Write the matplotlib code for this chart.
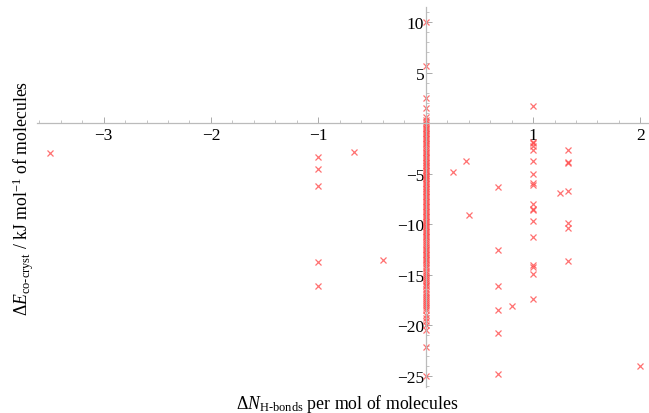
import numpy as np
import matplotlib
matplotlib.use('Agg')
import matplotlib.pyplot as plt
from matplotlib.ticker import MultipleLocator, FuncFormatter

plt.rcParams['font.family'] = ['Liberation Serif', 'DejaVu Serif']
plt.rcParams['mathtext.fontset'] = 'custom'
plt.rcParams['mathtext.rm'] = 'Liberation Serif'
plt.rcParams['mathtext.it'] = 'Liberation Serif:italic'

# points with a change in H-bond count
dN_other = [-3.5, -1, -1, -1, -1, -1, -0.67, -0.4,
            0.25, 0.38, 0.4,
            0.67, 0.67, 0.67, 0.67, 0.67, 0.67, 0.8,
            1, 1, 1, 1, 1, 1, 1, 1, 1, 1, 1, 1, 1, 1, 1, 1, 1, 1,
            1.25, 1.33, 1.33, 1.33, 1.33, 1.33, 1.33, 1.33, 2.0]
dE_other = [-2.9, -3.3, -4.5, -6.2, -13.7, -16.1, -2.8, -13.5,
            -4.8, -3.7, -9.1,
            -6.3, -12.5, -16.1, -18.5, -20.8, -24.8, -18.1,
            1.7, -1.9, -2.3, -2.6, -3.7, -5.0, -5.9, -6.1, -8.0, -8.5, -8.6,
            -9.7, -11.3, -14.0, -14.2, -14.9, -17.4, -2.0,
            -6.9, -2.6, -3.8, -3.9, -6.7, -9.9, -10.4, -13.6, -24.0]

# points with no change in H-bond count
dE_zero = [10.0, 5.7, 2.5, 1.5, 0.6, 0.3, 0.1, -0.1, -0.3, -0.5, -0.6, -0.8,
           -1.0, -1.1, -1.3, -1.5, -1.6, -1.8, -2.0, -2.1, -2.3, -2.5, -2.6,
           -2.8, -2.9, -3.1, -3.3, -3.4, -3.6, -3.8, -3.9, -4.1, -4.2, -4.4,
           -4.6, -4.7, -4.9, -5.1, -5.2, -5.4, -5.5, -5.7, -5.9, -6.0, -6.2,
           -6.4, -6.5, -6.7, -6.8, -7.0, -7.2, -7.3, -7.5, -7.7, -7.8, -8.0,
           -8.2, -8.3, -8.5, -8.7, -8.8, -9.0, -9.2, -9.3, -9.5, -9.7, -9.8,
           -10.0, -10.2, -10.3, -10.5, -10.7, -10.8, -11.0, -11.2, -11.3,
           -11.5, -11.7, -11.9, -12.0, -12.2, -12.4, -12.5, -12.7, -12.9,
           -13.0, -13.2, -13.4, -13.5, -13.7, -13.9, -14.1, -14.3, -14.6,
           -14.8, -15.0, -15.2, -15.4, -15.6, -15.8, -16.0, -16.1, -16.4,
           -16.7, -16.9, -17.1, -17.3, -17.5, -17.7, -17.9, -18.1, -18.3,
           -18.5, -19.0, -19.3, -19.6, -20.0, -20.5, -22.1, -25.0]
dN_zero = [0.0] * len(dE_zero)

dN = dN_zero + dN_other
dE = dE_zero + dE_other

fig = plt.figure(figsize=(6.49, 4.14), dpi=100)
ax = fig.add_axes([37 / 649, 1 - 388 / 414, 612 / 649, 380 / 414])

ax.plot(dN, dE, 'x', color=(1.0, 0.3, 0.3), alpha=0.8,
        markersize=5, mew=0.9, clip_on=False)

ax.set_xlim(-3.62, 2.08)
ax.set_ylim(-26.1, 11.5)

for s in ['top', 'right']:
    ax.spines[s].set_visible(False)
ax.spines['left'].set_position(('data', 0))
ax.spines['bottom'].set_position(('data', 0))
for s in ['left', 'bottom']:
    ax.spines[s].set_color('#bbbbbb')
    ax.spines[s].set_linewidth(0.9)

ax.xaxis.set_major_locator(MultipleLocator(1))
ax.xaxis.set_minor_locator(MultipleLocator(0.2))
ax.yaxis.set_major_locator(MultipleLocator(5))
ax.yaxis.set_minor_locator(MultipleLocator(1))

fmt = FuncFormatter(lambda v, p: '' if abs(v) < 1e-9 else ('%d' % v).replace('-', '\u2212'))
ax.xaxis.set_major_formatter(fmt)
ax.yaxis.set_major_formatter(fmt)

ax.tick_params(which='major', direction='in', length=4, width=0.7,
               color='#aaaaaa', labelsize=12.5, pad=3)
ax.tick_params(which='minor', direction='in', length=2, width=0.6,
               color='#bbbbbb')
ax.tick_params(axis='y', which='major', pad=1)

fig.text(347 / 649, 1 - 404 / 414, r'$\Delta N_{\mathrm{H}\text{-}\mathrm{bonds}}$ per mol of molecules',
         ha='center', va='center', fontsize=12.8)
fig.text(23 / 649, 1 - 198 / 414,
         r'$\Delta E_{\mathrm{co}\text{-}\mathrm{cryst}}$ / kJ mol$^{-1}$ of molecules',
         ha='center', va='center', rotation=90, fontsize=12.8)

fig.savefig('out.png', dpi=100)
